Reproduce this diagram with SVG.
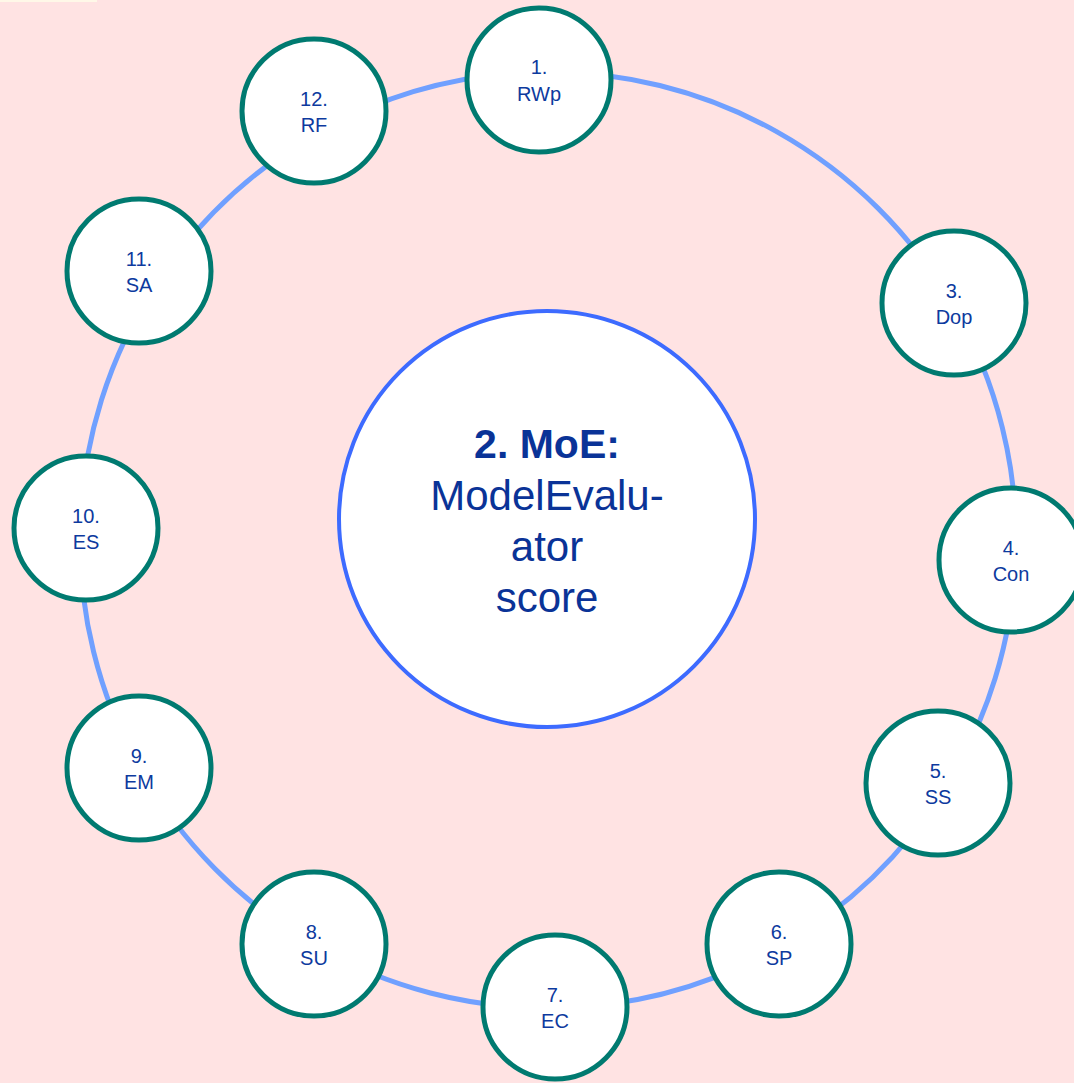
<svg xmlns="http://www.w3.org/2000/svg" width="1074" height="1083" viewBox="0 0 1074 1083">
  <style>
    .ring { fill: none; stroke: #70A0FF; stroke-width: 5; }
    .node circle { fill: #FFFFFF; stroke: #007A70; stroke-width: 5; }
    .node text { font-family: "Liberation Sans", Arial, sans-serif; font-size: 20px; fill: #0D3A9E; text-anchor: middle; }
    .hub circle { fill: #FFFFFF; stroke: #3D6BFF; stroke-width: 4; }
    .hub text { font-family: "Liberation Sans", Arial, sans-serif; font-size: 42px; fill: #0A3397; text-anchor: middle; }
    .hub .title { font-weight: bold; font-size: 41px; }
  </style>

  <!-- backdrop -->
  <rect x="0" y="0" width="1074" height="1083" fill="#FFE3E3"/>
  <rect x="0" y="0" width="97" height="2" fill="#FFF8E8"/>

  <!-- ring connectors: arcs of one circle (centre 548,540, r 468) -->
  <g id="connectors">
    <path class="ring" d="M538.8,72.1 A468,468 0 0 1 952.2,304.1"/>
    <path class="ring" d="M952.2,304.1 A468,468 0 0 1 1015.6,560.2"/>
    <path class="ring" d="M1015.6,560.2 A468,468 0 0 1 945.2,787.5"/>
    <path class="ring" d="M945.2,787.5 A468,468 0 0 1 779.5,946.7"/>
    <path class="ring" d="M779.5,946.7 A468,468 0 0 1 555,1008"/>
    <path class="ring" d="M555,1008 A468,468 0 0 1 314.2,945.4"/>
    <path class="ring" d="M314.2,945.4 A468,468 0 0 1 139.3,767.9"/>
    <path class="ring" d="M139.3,767.9 A468,468 0 0 1 80.2,527.9"/>
    <path class="ring" d="M80.2,527.9 A468,468 0 0 1 157,282.8"/>
    <path class="ring" d="M157,282.8 A468,468 0 0 1 323.9,129.2"/>
    <path class="ring" d="M323.9,129.2 A468,468 0 0 1 538.8,72.1"/>
  </g>

  <!-- central node -->
  <g id="node-2" class="hub">
    <circle cx="547" cy="519" r="208"/>
    <text x="547" y="458" class="title">2. MoE:</text>
    <text x="547" y="510">ModelEvalu-</text>
    <text x="547" y="561">ator</text>
    <text x="547" y="612">score</text>
  </g>

  <!-- outer nodes -->
  <g id="node-1" class="node">
    <circle cx="539" cy="80" r="72"/>
    <text x="539" y="74">1.</text>
    <text x="539" y="101">RWp</text>
  </g>
  <g id="node-3" class="node">
    <circle cx="954" cy="303" r="72"/>
    <text x="954" y="298">3.</text>
    <text x="954" y="324">Dop</text>
  </g>
  <g id="node-4" class="node">
    <circle cx="1011" cy="560" r="72"/>
    <text x="1011" y="555">4.</text>
    <text x="1011" y="581">Con</text>
  </g>
  <g id="node-5" class="node">
    <circle cx="938" cy="783" r="72"/>
    <text x="938" y="778">5.</text>
    <text x="938" y="804">SS</text>
  </g>
  <g id="node-6" class="node">
    <circle cx="779" cy="944" r="72"/>
    <text x="779" y="939">6.</text>
    <text x="779" y="965">SP</text>
  </g>
  <g id="node-7" class="node">
    <circle cx="555" cy="1007" r="72"/>
    <text x="555" y="1002">7.</text>
    <text x="555" y="1028">EC</text>
  </g>
  <g id="node-8" class="node">
    <circle cx="314" cy="944" r="72"/>
    <text x="314" y="939">8.</text>
    <text x="314" y="965">SU</text>
  </g>
  <g id="node-9" class="node">
    <circle cx="139" cy="768" r="72"/>
    <text x="139" y="763">9.</text>
    <text x="139" y="789">EM</text>
  </g>
  <g id="node-10" class="node">
    <circle cx="86" cy="528" r="72"/>
    <text x="86" y="523">10.</text>
    <text x="86" y="549">ES</text>
  </g>
  <g id="node-11" class="node">
    <circle cx="139" cy="271" r="72"/>
    <text x="139" y="266">11.</text>
    <text x="139" y="292">SA</text>
  </g>
  <g id="node-12" class="node">
    <circle cx="314" cy="111" r="72"/>
    <text x="314" y="106">12.</text>
    <text x="314" y="132">RF</text>
  </g>
</svg>
